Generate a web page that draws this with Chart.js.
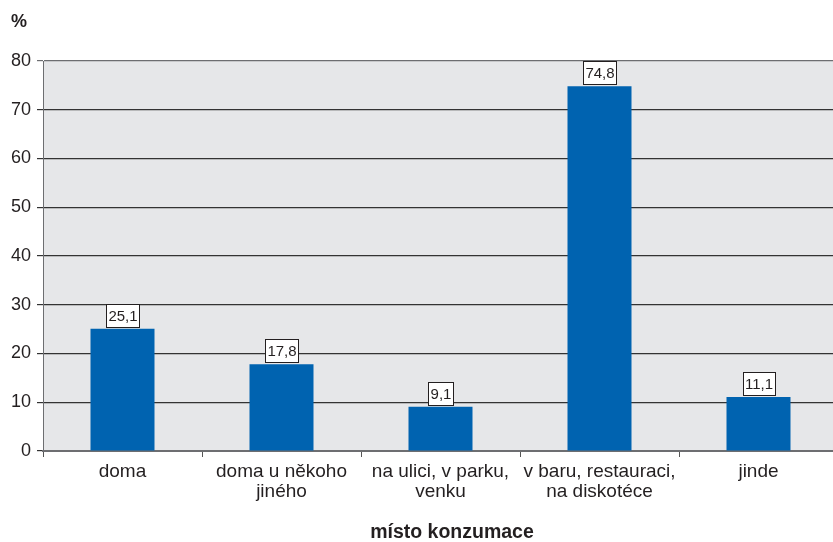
<!DOCTYPE html>
<html><head><meta charset="utf-8">
<script src="https://cdn.jsdelivr.net/npm/chart.js@4/dist/chart.umd.min.js"></script>
<style>html,body{margin:0;padding:0;background:#fff;overflow:hidden}#w{width:838px;height:542px}</style>
</head><body><div id="w"><canvas id="c"></canvas></div>
<script>
const categories = [["doma"], ["doma u někoho", "jiného"], ["na ulici, v parku,", "venku"], ["v baru, restauraci,", "na diskotéce"], ["jinde"]];
const values = [25.1, 17.8, 9.1, 74.8, 11.1];
const yTicks = [0, 10, 20, 30, 40, 50, 60, 70, 80];
const yUnit = "%";
const xTitle = "místo konzumace";
const FONT = "'Liberation Sans', Arial, sans-serif";

const extras = {
  id: 'extras',
  beforeDraw(chart) {
    const {ctx, chartArea: a} = chart;
    ctx.save();
    ctx.fillStyle = '#e6e7e9';
    ctx.fillRect(a.left, a.top, a.right - a.left, a.bottom - a.top);
    ctx.restore();
  },
  afterDraw(chart) {
    const {ctx} = chart;
    ctx.save();
    ctx.fillStyle = '#231f20';
    ctx.font = 'bold 18px ' + FONT;
    ctx.textAlign = 'left'; ctx.textBaseline = 'alphabetic';
    ctx.fillText(yUnit, 11, 27);
    ctx.font = 'bold 19.5px ' + FONT;
    ctx.textAlign = 'center';
    ctx.fillText(xTitle, 452, 538);
    const meta = chart.getDatasetMeta(0);
    ctx.font = '15px ' + FONT;
    meta.data.forEach((bar, i) => {
      const txt = values[i].toFixed(1).replace('.', ',');
      const w = Math.round(ctx.measureText(txt).width + 4);
      const h = 23;
      const x = Math.round(bar.x - w / 2), y = Math.round(bar.y - 2 - h);
      ctx.fillStyle = '#fff';
      ctx.fillRect(x, y, w, h);
      ctx.strokeStyle = '#231f20'; ctx.lineWidth = 1;
      ctx.strokeRect(x + 0.5, y + 0.5, w, h);
      ctx.fillStyle = '#231f20';
      ctx.textBaseline = 'middle';
      ctx.fillText(txt, bar.x + 0.5, y + h / 2 + 1.5);
    });
    ctx.restore();
  }
};

new Chart(document.getElementById('c'), {
  type: 'bar',
  data: {
    labels: categories,
    datasets: [{ data: values, backgroundColor: '#0063b0', barPercentage: 0.805, categoryPercentage: 0.5 }]
  },
  options: {
    responsive: true, maintainAspectRatio: false, animation: false,
    layout: { padding: { top: 61, right: 0, left: 0, bottom: 0 } },
    plugins: { legend: { display: false }, tooltip: { enabled: false } },
    scales: {
      x: {
        afterFit(s) { s.height = 91; },
        grid: { offset: true, drawOnChartArea: false, tickLength: 6, color: '#555' },
        border: { color: '#6d6e71', width: 2 },
        ticks: { color: '#231f20', font: { family: FONT, size: 19, lineHeight: 1.05 }, padding: 5, maxRotation: 0, autoSkip: false }
      },
      y: {
        min: 0, max: 80,
        afterFit(s) { s.width = 43; },
        afterBuildTicks(s) { s.ticks = yTicks.map(v => ({ value: v })); },
        grid: { color: (c) => c.index === yTicks.length - 1 ? '#6d6e71' : '#333', lineWidth: 1.2, tickLength: 6 },
        border: { color: '#6d6e71', width: 1 },
        ticks: { color: '#231f20', font: { family: FONT, size: 18 }, padding: 6 }
      }
    }
  },
  plugins: [extras]
});
</script></body></html>
